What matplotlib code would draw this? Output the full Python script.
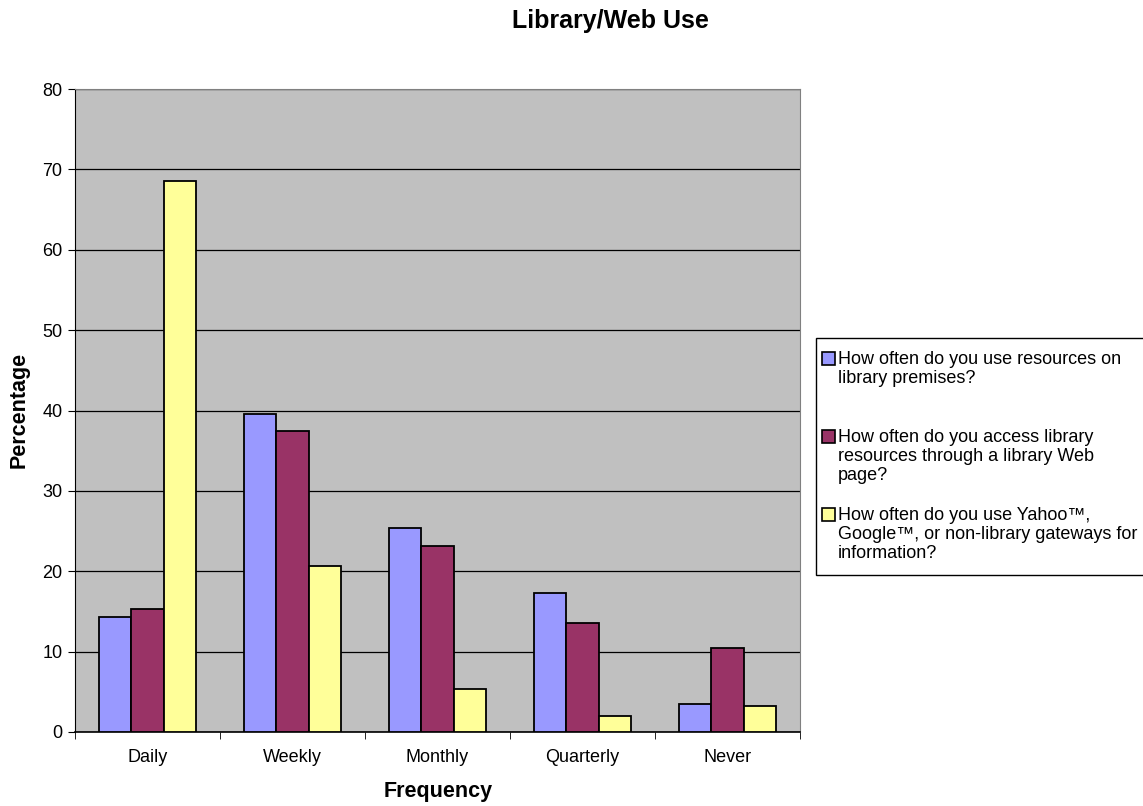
import numpy as np
import matplotlib.pyplot as plt
from matplotlib.patches import Rectangle

plt.rcParams['font.family'] = ['Liberation Sans', 'DejaVu Sans']

categories = ["Daily", "Weekly", "Monthly", "Quarterly", "Never"]
premises = [14.3, 39.6, 25.4, 17.3, 3.5]
web_page = [15.3, 37.5, 23.2, 13.6, 10.5]
gateways = [68.6, 20.6, 5.3, 2.0, 3.2]
labels = ["How often do you use resources on\nlibrary premises?",
          "How often do you access library\nresources through a library Web\npage?",
          "How often do you use Yahoo\u2122,\nGoogle\u2122, or non-library gateways for\ninformation?"]
colors = ["#9999FF", "#993366", "#FFFF99"]

W, H = 1143, 806
fig = plt.figure(figsize=(W/100, H/100), dpi=100)
ax = fig.add_axes([75/W, 1-732/H, 725/W, 643/H])
ax.set_facecolor("#C0C0C0")

x = np.arange(len(categories))
w = 0.223
for i, vals in enumerate([premises, web_page, gateways]):
    ax.bar(x + (i-1)*w, vals, w, color=colors[i], edgecolor="black",
           linewidth=1.3, zorder=3)

ax.set_xlim(-0.5, 4.5)
ax.set_ylim(0, 80)
ax.set_yticks(range(0, 81, 10))
ax.set_xticks(x)
ax.set_xticklabels(categories)
ax.set_xticks(np.arange(-0.5, 5, 1), minor=True)
ax.tick_params(axis='x', which='major', length=0, pad=12, labelsize=13)
ax.tick_params(axis='x', which='minor', length=5, direction='out')
ax.tick_params(axis='y', length=5, direction='out', pad=4, labelsize=13)
ax.grid(axis='y', color='black', linewidth=0.9, zorder=0)
for s in ax.spines.values():
    s.set_color('#808080')
ax.spines['left'].set_color('black')
ax.spines['bottom'].set_color('black')
ax.spines['bottom'].set_linewidth(1.2)

fig.text(438/W, 1-792/H, "Frequency", ha='center', va='center',
         fontsize=15.5, fontweight='bold')
fig.text(19/W, 1-410/H, "Percentage", ha='center', va='center', rotation=90,
         fontsize=15.5, fontweight='bold')
fig.text(610/W, 1-21/H, "Library/Web Use", ha='center', va='center',
         fontsize=18, fontweight='bold')

# legend box drawn by hand so the swatch sits next to the first line
fig.patches.append(Rectangle((816/W, 1-575/H), 330/W, 237/H, transform=fig.transFigure,
                             facecolor='white', edgecolor='black', linewidth=1.0))
for i, lab in enumerate(labels):
    yc = 358.5 + i*78
    fig.patches.append(Rectangle((822/W, 1-(yc+6.5)/H), 13/W, 13/H,
                                 transform=fig.transFigure, facecolor=colors[i],
                                 edgecolor='black', linewidth=1.2))
    fig.text(838/W, 1-(yc-7)/H, lab, ha='left', va='top', fontsize=13,
             linespacing=1.12)

fig.savefig("out.png", dpi=100)
